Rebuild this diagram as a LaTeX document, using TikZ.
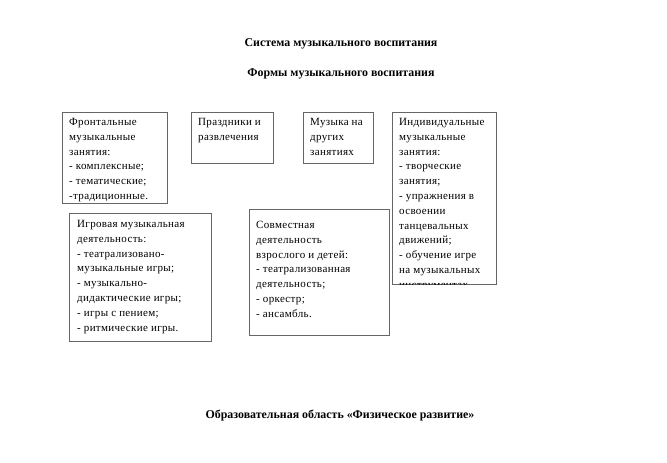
\documentclass[tikz,border=0pt]{standalone}
\usepackage{fontspec}
\setmainfont{Liberation Serif}
\newfontfamily\boxfont[LetterSpace=3]{Liberation Serif}
\usetikzlibrary{positioning}

\tikzset{
    frame/.style={draw=black!60, line width=0.6pt, anchor=north west, inner sep=0pt},
    boxtext/.style={anchor=north west, align=left, inner sep=0pt,
        font=\boxfont\fontsize{11}{14.8}\selectfont},
    heading/.style={font=\bfseries\fontsize{11.9}{13}\selectfont, inner sep=0pt}
}

\begin{document}
\begin{tikzpicture}[x=1pt,y=-1pt]
    \useasboundingbox (0,0) rectangle (667,463);

    % headings
    \node[heading] (system) at (341,44) {Система музыкального воспитания};
    \node[heading] (forms) at (341,74) {Формы музыкального воспитания};
    \node[heading] (area) at (340,416) {Образовательная область «Физическое развитие»};

    % upper row
    \node[frame, minimum width=105pt, minimum height=91pt] (frontal) at (62,112) {};
    \node[boxtext] (frontal text) at ([shift={(7,6)}]frontal.north west)
        {Фронтальные\\музыкальные\\занятия:\\- комплексные;\\- тематические;\\-традиционные.};

    \node[frame, minimum width=82pt, minimum height=51pt] (holiday) at (191,112) {};
    \node[boxtext] (holiday text) at ([shift={(7,6)}]holiday.north west)
        {Праздники и\\развлечения};

    \node[frame, minimum width=70pt, minimum height=51pt] (lessons) at (303,112) {};
    \node[boxtext] (lessons text) at ([shift={(7,6)}]lessons.north west)
        {Музыка на\\других\\занятиях};

    \node[frame, minimum width=104pt, minimum height=172pt] (indiv) at (392,112) {};
    \begin{scope}
        \clip (indiv.north west) rectangle (indiv.south east);
        \node[boxtext] (indiv text) at ([shift={(7,6)}]indiv.north west)
            {Индивидуальные\\музыкальные\\занятия:\\- творческие\\занятия;\\- упражнения в\\освоении\\танцевальных\\движений;\\- обучение игре\\на музыкальных\\инструментах};
    \end{scope}

    % lower row
    \node[frame, minimum width=142pt, minimum height=128pt] (game) at (69,213) {};
    \node[boxtext] (game text) at ([shift={(8,7)}]game.north west)
        {Игровая музыкальная\\деятельность:\\- театрализовано-\\музыкальные игры;\\- музыкально-\\дидактические игры;\\- игры с пением;\\- ритмические игры.};

    \node[frame, minimum width=140pt, minimum height=126pt] (joint) at (249,209) {};
    \node[boxtext] (joint text) at ([shift={(7,12)}]joint.north west)
        {Совместная\\деятельность\\взрослого и детей:\\- театрализованная\\деятельность;\\- оркестр;\\- ансамбль.};
\end{tikzpicture}
\end{document}
